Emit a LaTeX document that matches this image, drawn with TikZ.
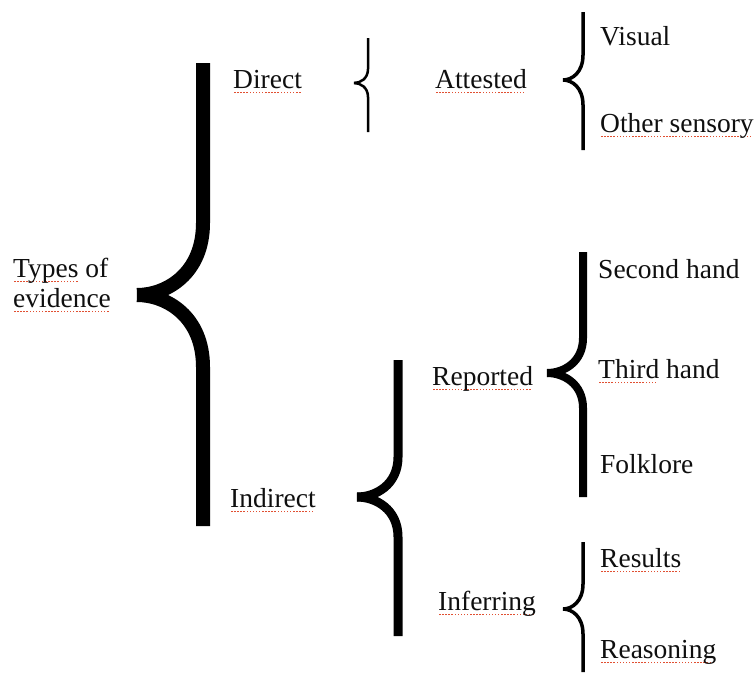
\documentclass[tikz,border=0pt]{standalone}
\usepackage{fontspec}
\setmainfont{Liberation Serif}
\definecolor{spell}{RGB}{225,80,50}
\definecolor{ink}{RGB}{15,15,15}
\newcommand\sq[1]{\setbox0\hbox{#1}\rlap{\textcolor{spell}{\hbox to \wd0{\leaders\hbox{\kern0.8pt\rule[-5pt]{1.5pt}{1.5pt}\kern0.8pt}\hfill}}}\box0\relax}
% #1 bar x, #2 top, #3 bottom, #4 tip x, #5 tip y, #6 bend height, #7 width
\newcommand\mybrace[7]{%
  \draw[line width=#7] (#1,#2) -- (#1,#5-#6) .. controls (#1,#5-0.3*#6) and ({#4+0.45*(#1-#4)},#5) .. (#4,#5);
  \draw[line width=#7] (#1,#3) -- (#1,#5+#6) .. controls (#1,#5+0.3*#6) and ({#4+0.45*(#1-#4)},#5) .. (#4,#5);
}
\begin{document}
\begin{tikzpicture}[x=1pt,y=-1pt,
  lbl/.style={anchor=base west,inner sep=0pt,text=ink,font=\fontsize{27.5}{30}\selectfont}]
\useasboundingbox (0,0) rectangle (754,675);
\fill[white] (0,0) rectangle (754,675);
% braces
\mybrace{203}{63}{526}{137}{295}{72}{14pt}
\mybrace{368}{38}{132}{354}{83}{14}{2.5pt}
\mybrace{583}{12}{150}{563}{80}{25}{3.5pt}
\mybrace{398}{360}{636}{357}{497}{40}{9pt}
\mybrace{583}{252}{497}{547}{373}{35}{8pt}
\mybrace{583}{542}{672}{563}{609}{25}{3.5pt}
% labels
\node[lbl] (types) at (13,277) {\sq{Types} of};
\node[lbl] (evid) at (13,307) {\sq{evidence}};
\node[lbl] (direct) at (233,88) {\sq{Direct}};
\node[lbl] (attested) at (435,88) {\sq{Attested}};
\node[lbl] (visual) at (600,45) {Visual};
\node[lbl] (other) at (600,132) {\sq{Other sensory}};
\node[lbl] (second) at (598,278) {Second hand};
\node[lbl] (third) at (598,378) {\sq{Third} hand};
\node[lbl] (folk) at (600,473) {Folklore};
\node[lbl] (reported) at (432,385) {\sq{Reported}};
\node[lbl] (indirect) at (230,507) {\sq{Indirect}};
\node[lbl] (inferring) at (438,610) {\sq{Inferring}};
\node[lbl] (results) at (600,567) {\sq{Results}};
\node[lbl] (reasoning) at (600,658) {\sq{Reasoning}};
\end{tikzpicture}
\end{document}
